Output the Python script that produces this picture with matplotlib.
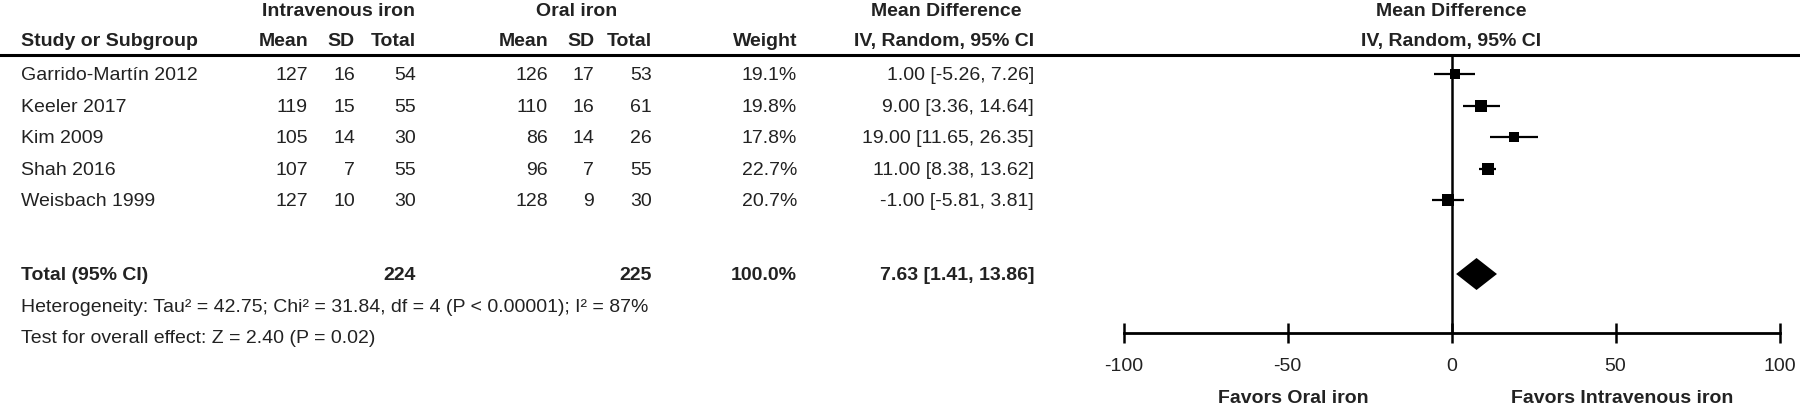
import matplotlib
matplotlib.use('Agg')
import matplotlib.pyplot as plt
from matplotlib.patches import Polygon
import numpy as np

plt.rcParams['font.family'] = ['Liberation Sans', 'DejaVu Sans']

# data
studies = ['Garrido-Martín 2012', 'Keeler 2017', 'Kim 2009', 'Shah 2016', 'Weisbach 1999']
iv_mean = [127, 119, 105, 107, 127]
iv_sd = [16, 15, 14, 7, 10]
iv_n = [54, 55, 30, 55, 30]
oral_mean = [126, 110, 86, 96, 128]
oral_sd = [17, 16, 14, 7, 9]
oral_n = [53, 61, 26, 55, 30]
weights = [19.1, 19.8, 17.8, 22.7, 20.7]
md = [1.00, 9.00, 19.00, 11.00, -1.00]
ci_lo = [-5.26, 3.36, 11.65, 8.38, -5.81]
ci_hi = [7.26, 14.64, 26.35, 13.62, 3.81]

total_iv_n = 224
total_oral_n = 225
total_weight = 100.0
total_md = 7.63
total_lo = 1.41
total_hi = 13.86

het_text = 'Heterogeneity: Tau² = 42.75; Chi² = 31.84, df = 4 (P < 0.00001); I² = 87%'
effect_text = 'Test for overall effect: Z = 2.40 (P = 0.02)'
xticks = [-100, -50, 0, 50, 100]
favors = ['Favors Oral iron', 'Favors Intravenous iron']

# layout (pixels)
W, H = 1800, 404
FS = 14
TXT = '#222222'
row0, row_step = 74, 31.6
total_y = 274
het_y, eff_y = 306, 337
hdr1_y, hdr2_y = 10, 40
line_y = 55
axis_y = 333
plot_left, plot_right = 1123.5, 1779.5

col_study = 21
col_iv = [308, 355, 416]
col_or = [548, 594, 652]
col_w = 797
col_ci = 1034

fig = plt.figure(figsize=(W / 100, H / 100), dpi=100)
ax = fig.add_axes([0, 0, 1, 1])
ax.set_xlim(0, W)
ax.set_ylim(H, 0)
ax.axis('off')

def txt(x, y, s, ha='left', bold=False):
    # small nudge: bbox centre sits above the visual centre of the glyphs
    ax.text(x, y + 1.5, s, ha=ha, va='center', fontsize=FS, color=TXT,
            fontweight='bold' if bold else 'normal')

# headers
txt(339, hdr1_y, 'Intravenous iron', 'center', True)
txt(577, hdr1_y, 'Oral iron', 'center', True)
txt(946, hdr1_y, 'Mean Difference', 'center', True)
txt(944, hdr2_y, 'IV, Random, 95% CI', 'center', True)
txt(col_study, hdr2_y, 'Study or Subgroup', bold=True)
for cols in (col_iv, col_or):
    for x, s in zip(cols, ['Mean', 'SD', 'Total']):
        txt(x, hdr2_y, s, 'right', True)
txt(col_w, hdr2_y, 'Weight', 'right', True)
txt((plot_left + plot_right) / 2, hdr1_y, 'Mean Difference', 'center', True)
txt((plot_left + plot_right) / 2, hdr2_y, 'IV, Random, 95% CI', 'center', True)
ax.axhline(line_y, color='black', lw=2.2)

# study rows
row_y = [row0 + i * row_step for i in range(len(studies))]
for i, y in enumerate(row_y):
    txt(col_study, y, studies[i])
    for x, v in zip(col_iv, [iv_mean[i], iv_sd[i], iv_n[i]]):
        txt(x, y, str(v), 'right')
    for x, v in zip(col_or, [oral_mean[i], oral_sd[i], oral_n[i]]):
        txt(x, y, str(v), 'right')
    txt(col_w, y, '%.1f%%' % weights[i], 'right')
    txt(col_ci, y, '%.2f [%.2f, %.2f]' % (md[i], ci_lo[i], ci_hi[i]), 'right')

# total row
txt(col_study, total_y, 'Total (95% CI)', bold=True)
txt(col_iv[2], total_y, str(total_iv_n), 'right', True)
txt(col_or[2], total_y, str(total_oral_n), 'right', True)
txt(col_w, total_y, '%.1f%%' % total_weight, 'right', True)
txt(col_ci, total_y, '%.2f [%.2f, %.2f]' % (total_md, total_lo, total_hi), 'right', True)
txt(col_study, het_y, het_text)
txt(col_study, eff_y, effect_text)

# forest panel
fx = fig.add_axes([plot_left / W, 0, (plot_right - plot_left) / W, 1])
fx.set_xlim(-100, 100)
fx.set_ylim(H, 0)
fx.patch.set_alpha(0)
for s in ['top', 'left', 'right']:
    fx.spines[s].set_visible(False)
fx.spines['bottom'].set_position(('data', axis_y))
fx.spines['bottom'].set_linewidth(2.0)
fx.set_yticks([])
fx.set_xticks(xticks)
fx.set_xticklabels([str(t) for t in xticks])
fx.tick_params(axis='x', direction='inout', length=14.5, width=1.8,
               pad=11, labelsize=FS, labelcolor=TXT)

fx.vlines(0, line_y, axis_y, color='black', lw=1.8)
for i, y in enumerate(row_y):
    fx.plot([ci_lo[i], ci_hi[i]], [y, y], color='black', lw=1.6, solid_capstyle='butt')
    fx.plot(md[i], y, marker='s', color='black', ms=8.0 * np.sqrt(weights[i] / 20.0), mew=0)

half_h = 16
fx.add_patch(Polygon([[total_lo, total_y], [total_md, total_y - half_h],
                      [total_hi, total_y], [total_md, total_y + half_h]],
                     closed=True, color='black', lw=0))

txt(1293, 397, favors[0], 'center', True)
txt(1622, 397, favors[1], 'center', True)

fig.savefig('out.png', dpi=100)
